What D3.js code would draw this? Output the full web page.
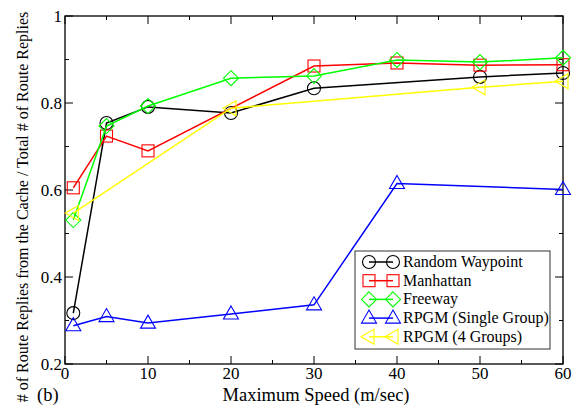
<!DOCTYPE html>
<html><head><meta charset="utf-8">
<script src="https://cdn.jsdelivr.net/npm/d3@7"></script>
<style>body{margin:0;background:#fff}svg{display:block}</style>
</head><body>
<script>
const seriesNames = ["Random Waypoint","Manhattan","Freeway","RPGM (Single Group)","RPGM (4 Groups)"];
const colors = ["#000000","#ff0000","#00ff00","#0000ff","#ffff00"];
const symbols = ["circle","square","diamond","triangleUp","triangleLeft"];
const rwX = [1,5,10,20,30,50,60];
const rwY = [0.317,0.754,0.791,0.777,0.834,0.860,0.869];
const manX = [1,5,10,30,40,50,60];
const manY = [0.605,0.724,0.690,0.885,0.892,0.887,0.888];
const fwX = [1,5,10,20,30,40,50,60];
const fwY = [0.531,0.747,0.793,0.857,0.862,0.899,0.894,0.904];
const rsgX = [1,5,10,20,30,40,60];
const rsgY = [0.288,0.309,0.294,0.315,0.336,0.615,0.601];
const r4gX = [1,20,50,60];
const r4gY = [0.547,0.788,0.836,0.850];
const xTicks = [0,10,20,30,40,50,60];
const yTicks = [0.2,0.4,0.6,0.8,1];
const xLabel = "Maximum Speed (m/sec)";
const yLabel = "# of Route Replies from the Cache / Total # of Route Replies";
const panelLabel = "(b)";

const seriesX = [rwX,manX,fwX,rsgX,r4gX];
const seriesY = [rwY,manY,fwY,rsgY,r4gY];

const FONT = "Liberation Serif";
const W=587,H=410, L=65,T=16,R=563,B=364;
const svg=d3.select("body").append("svg").attr("width",W).attr("height",H);
const x=d3.scaleLinear().domain([0,60]).range([L,R]);
const y=d3.scaleLinear().domain([0.2,1]).range([B,T]);

function marker(g,type,cx,cy,color){
  let el;
  if(type==="circle") el=g.append("circle").attr("cx",cx).attr("cy",cy).attr("r",6.5);
  else if(type==="square") el=g.append("rect").attr("x",cx-6).attr("y",cy-6).attr("width",12).attr("height",12);
  else if(type==="diamond") el=g.append("path").attr("d",`M${cx},${cy-7.5}L${cx+7.5},${cy}L${cx},${cy+7.5}L${cx-7.5},${cy}Z`);
  else if(type==="triangleUp") el=g.append("path").attr("d",`M${cx},${cy-8}L${cx+7.5},${cy+5}L${cx-7.5},${cy+5}Z`);
  else el=g.append("path").attr("d",`M${cx-8},${cy}L${cx+5},${cy-7.5}L${cx+5},${cy+7.5}Z`);
  el.attr("fill","none").attr("stroke",color).attr("stroke-width",1.1);
}
function txt(sel){ return sel.attr("font-family",FONT).attr("fill","#000"); }

const minorX=d3.range(5,60,10), minorY=d3.range(0.3,1,0.2);
const ax=svg.append("g").attr("stroke","#000").attr("stroke-width",1);
ax.append("rect").attr("x",L).attr("y",T).attr("width",R-L).attr("height",B-T).attr("fill","none").attr("stroke-width",1.3);
xTicks.forEach(v=>{ax.append("line").attr("x1",x(v)).attr("x2",x(v)).attr("y1",B).attr("y2",B-8);
  ax.append("line").attr("x1",x(v)).attr("x2",x(v)).attr("y1",T).attr("y2",T+8);});
minorX.forEach(v=>{ax.append("line").attr("x1",x(v)).attr("x2",x(v)).attr("y1",B).attr("y2",B-4);
  ax.append("line").attr("x1",x(v)).attr("x2",x(v)).attr("y1",T).attr("y2",T+4);});
yTicks.forEach(v=>{ax.append("line").attr("y1",y(v)).attr("y2",y(v)).attr("x1",L).attr("x2",L+8);
  ax.append("line").attr("y1",y(v)).attr("y2",y(v)).attr("x1",R).attr("x2",R-8);});
minorY.forEach(v=>{ax.append("line").attr("y1",y(v)).attr("y2",y(v)).attr("x1",L).attr("x2",L+4);
  ax.append("line").attr("y1",y(v)).attr("y2",y(v)).attr("x1",R).attr("x2",R-4);});

const fmt=v=>v===1?"1":d3.format(".1f")(v);
txt(svg.append("g").selectAll("text").data(xTicks).join("text"))
  .attr("x",d=>x(d)).attr("y",B+15).attr("text-anchor","middle").attr("font-size",17).text(d=>d);
txt(svg.append("g").selectAll("text").data(yTicks).join("text"))
  .attr("x",L-3).attr("y",d=>y(d)+6).attr("text-anchor","end").attr("font-size",17).text(fmt);

txt(svg.append("text")).attr("x",316).attr("y",401).attr("text-anchor","middle").attr("font-size",18.5).text(xLabel);
txt(svg.append("text")).attr("transform","translate(28,207) rotate(-90)").attr("text-anchor","middle").attr("font-size",16).text(yLabel);
txt(svg.append("text")).attr("x",37).attr("y",401).attr("font-size",18.5).text(panelLabel);

const line=d3.line();
seriesNames.forEach((n,i)=>{
  const pts=seriesX[i].map((v,j)=>[x(v),y(seriesY[i][j])]);
  svg.append("path").attr("d",line(pts)).attr("fill","none").attr("stroke",colors[i]).attr("stroke-width",1.5);
  const g=svg.append("g");
  pts.forEach(p=>marker(g,symbols[i],p[0],p[1],colors[i]));
});

const lg=svg.append("g");
lg.append("rect").attr("x",355).attr("y",251).attr("width",195).attr("height",98).attr("fill","#fff").attr("stroke","#333").attr("stroke-width",1);
seriesNames.forEach((n,i)=>{
  const yy=262+i*18.7;
  lg.append("line").attr("x1",369).attr("x2",393).attr("y1",yy).attr("y2",yy).attr("stroke",colors[i]).attr("stroke-width",1.5);
  marker(lg,symbols[i],369,yy,colors[i]);
  marker(lg,symbols[i],393,yy,colors[i]);
  txt(lg.append("text")).attr("x",403).attr("y",yy+5).attr("font-size",16).text(n);
});
</script>
</body></html>
